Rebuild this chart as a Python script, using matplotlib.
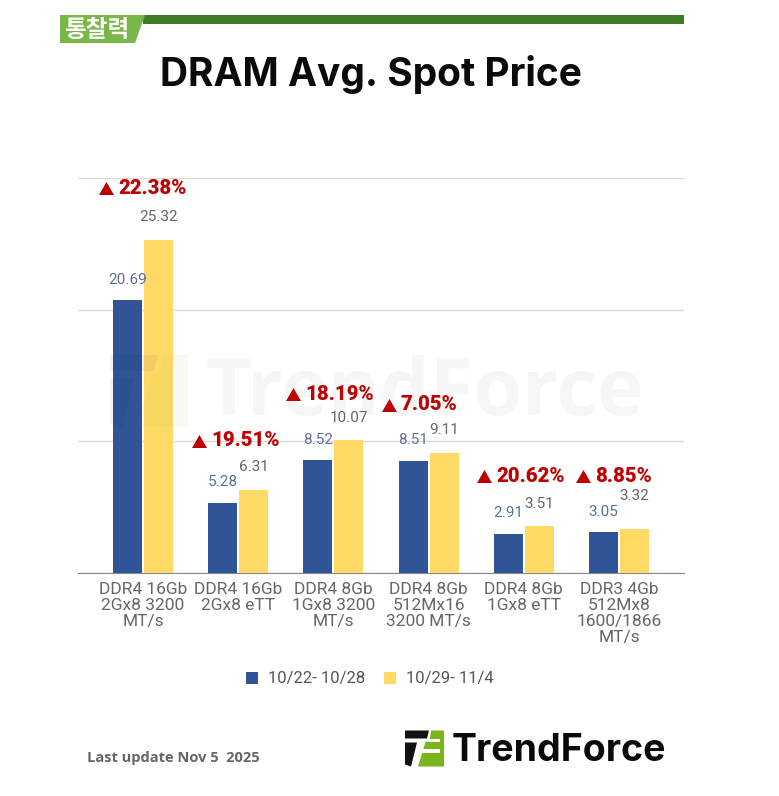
import matplotlib
matplotlib.use("Agg")
from matplotlib import pyplot as plt
from matplotlib.patches import Polygon, Rectangle

categories = ["DDR4 16Gb\n2Gx8 3200\nMT/s", "DDR4 16Gb\n2Gx8 eTT", "DDR4 8Gb\n1Gx8 3200\nMT/s",
              "DDR4 8Gb\n512Mx16\n3200 MT/s", "DDR4 8Gb\n1Gx8 eTT", "DDR3 4Gb\n512Mx8\n1600/1866\nMT/s"]
week1 = [20.69, 5.28, 8.52, 8.51, 2.91, 3.05]
week2 = [25.32, 6.31, 10.07, 9.11, 3.51, 3.32]
changes = ["22.38%", "19.51%", "18.19%", "7.05%", "20.62%", "8.85%"]
series_names = ["10/22- 10/28", "10/29- 11/4"]

BLUE = "#2f5597"
YELLOW = "#ffd966"
W, H = 779, 796

fig = plt.figure(figsize=(W / 100, H / 100), dpi=100)

# main chart, placed by pixels
ax = fig.add_axes([78 / W, 1 - 572.5 / H, 606 / W, (572.5 - 178) / H])
xs = list(range(len(categories)))
bars1 = ax.bar([x - 0.163 for x in xs], week1, 0.305, color=BLUE, zorder=3)
bars2 = ax.bar([x + 0.163 for x in xs], week2, 0.305, color=YELLOW, zorder=3)
ax.set_xlim(-0.683, 5.683)
ax.set_ylim(0, 30)
ax.set_yticks([0, 10, 20, 30])
ax.set_yticklabels([])
ax.grid(axis="y", color="#d9d9d9", lw=1, zorder=0)
ax.tick_params(length=0)
for s in ["top", "left", "right"]:
    ax.spines[s].set_visible(False)
ax.spines["bottom"].set_color("#888888")
ax.set_xticks(xs)
ax.set_xticklabels(categories, family="Roboto", fontsize=12.5, color="#666666", linespacing=1.09)
ax.tick_params(axis="x", pad=7)

for x, v in zip(xs, week1):
    ax.annotate(f"{v:.2f}", (x - 0.163, v), xytext=(0, 15), textcoords="offset points", ha="center", va="center",
                family="Roboto", fontsize=11, color="#5b7396")
for x, v in zip(xs, week2):
    # the last label sits higher in the original
    off = 24 if x == 5 else 16
    ax.annotate(f"{v:.2f}", (x + 0.163, v), xytext=(0, off), textcoords="offset points", ha="center", va="center",
                family="Roboto", fontsize=11, color="#666666")

# overlay in pixel coordinates for the header, badges and logos
ov = fig.add_axes([0, 0, 1, 1], zorder=5)
ov.set_xlim(0, W)
ov.set_ylim(H, 0)
ov.axis("off")


def draw_logo(x0, y0, s, alpha=1.0, bg="white"):
    # logo outline measured from the zoomed crop, s = pixels per unit
    def p(pts):
        return [(x0 + a * s, y0 + b * s) for a, b in pts]
    ov.add_patch(Polygon(p([(0, 0), (24, 0), (22, 8), (0, 8)]), color="#111111", lw=0, alpha=alpha))
    ov.add_patch(Polygon(p([(0, 12), (12, 12), (6, 36), (0, 34)]), color="#111111", lw=0, alpha=alpha))
    ov.add_patch(Polygon(p([(26, 0), (39, 0), (39, 36), (13, 36), (21, 10), (25, 8)]), color="#7ab51d", lw=0, alpha=alpha))
    if bg:
        ov.add_patch(Polygon(p([(21, 8), (35, 8), (35, 11), (20, 11)]), color=bg, lw=0))
        ov.add_patch(Polygon(p([(18, 18), (35, 18), (35, 22), (17, 22)]), color=bg, lw=0))


# header band
ov.add_patch(Rectangle((143, 15), 541, 8.5, color="#3f7a26", lw=0))
ov.add_patch(Polygon([(60, 15), (145, 15), (135, 43), (60, 43)], color="#7ab648", lw=0))
ov.text(97, 30, "통찰력", family="Noto Sans CJK KR", fontweight="bold", fontsize=17, color="white", ha="center", va="center")
ov.text(371, 74, "DRAM Avg. Spot Price", family="Inter", fontweight="bold", fontsize=28, color="#0a0a0a", ha="center", va="center")

# red change badges
badge_x = [99, 192, 286, 382, 477, 576]
badge_y = [188, 441, 394, 405, 476, 476]
for bx, by, c in zip(badge_x, badge_y, changes):
    ov.add_patch(Polygon([(bx, by + 7), (bx + 15, by + 7), (bx + 7.5, by - 6)], color="#c00000", lw=0))
    ov.text(bx + 19, by, c, family="Roboto", fontweight=900, fontsize=14.7, color="#c00000", ha="left", va="center")

# watermark
ov.text(205, 395, "TrendForce", family="Open Sans", fontweight="bold", fontsize=57, color="#808080", alpha=0.07, ha="left", va="center")
draw_logo(110, 355, 2.0, alpha=0.06, bg=None)

# legend
fig.legend([bars1, bars2], series_names, loc="center", bbox_to_anchor=(370 / W, 1 - 679 / H), ncol=2, frameon=False,
           prop={"family": "Roboto", "size": 12}, labelcolor="#555555", handlelength=0.72, handleheight=0.72,
           handletextpad=0.6, columnspacing=1.1)

# footer
ov.text(87, 758, "Last update Nov 5  2025", family="Open Sans", fontweight="bold", fontsize=10.5, color="#666666", ha="left", va="center")
draw_logo(405, 730.5, 1.0)
ov.text(452, 751, "TrendForce", family="Inter", fontweight="bold", fontsize=27, color="#0a0a0a", ha="left", va="center")

fig.savefig("out.png", dpi=100, facecolor="white")
